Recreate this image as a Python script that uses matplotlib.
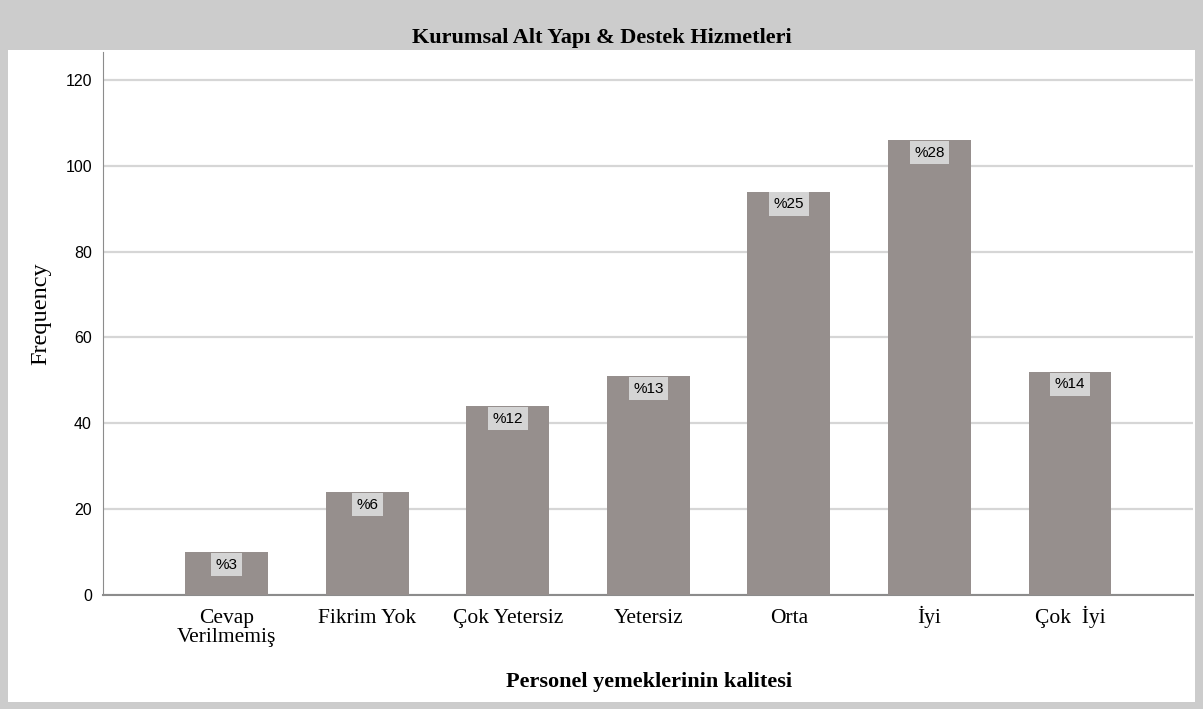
#! /usr/bin/env python
# coding: utf-8
"""Bar chart: Personel yemeklerinin kalitesi (SPSS style)."""

import matplotlib
matplotlib.use('Agg')
import matplotlib.pyplot as plt
from matplotlib.patches import Rectangle

categories = ['Cevap\nVerilmemiş', 'Fikrim Yok', 'Çok Yetersiz', 'Yetersiz',
              'Orta', 'İyi', 'Çok  İyi']
frequencies = [10, 24, 44, 51, 94, 106, 52]
percent_labels = ['%3', '%6', '%12', '%13', '%25', '%28', '%14']
y_ticks = [0, 20, 40, 60, 80, 100, 120]

SERIF = 'Liberation Serif'
SANS = 'Liberation Sans'
W, H = 1203, 709

fig = plt.figure(figsize=(W / 100, H / 100), dpi=100, facecolor='#cccccc')

# white panel below the title band
fig.patches.append(Rectangle((8 / W, 7 / H), (1195 - 8) / W, (702 - 50) / H,
                             transform=fig.transFigure, facecolor='white',
                             edgecolor='none', zorder=-5))

fig.text(0.5, 1 - 38 / H, 'Kurumsal Alt Yapı & Destek Hizmetleri',
         ha='center', va='center', fontsize=16, fontweight='bold',
         family=SERIF)

ax = fig.add_axes([103 / W, 1 - 595 / H, (1193 - 103) / W, (595 - 52) / H])
ax.set_facecolor('white')

x = list(range(len(categories)))
bars = ax.bar(x, frequencies, width=0.59, color='#968f8d', zorder=3)

for rect, lab in zip(bars, percent_labels):
    ax.annotate(lab, (rect.get_x() + rect.get_width() / 2, rect.get_height()),
                xytext=(0, -4), textcoords='offset points', ha='center',
                va='top', fontsize=11, family=SANS, zorder=4,
                bbox=dict(boxstyle='square,pad=0.3', facecolor='#d4d4d4',
                          edgecolor='none'))

ax.set_xlim(-0.88, len(categories) - 1 + 0.875)
ax.set_ylim(0, 126.5)
ax.set_yticks(y_ticks)
ax.set_xticks(x)
ax.set_xticklabels([])
# category labels aligned on the baseline of their first line
for xi, cat in zip(x, categories):
    extra = cat.count('\n')
    ax.annotate(cat, (xi, 0), xycoords=ax.get_xaxis_transform(),
                xytext=(0, -20 - 13.5 * extra), textcoords='offset points',
                ha='center', va='baseline', fontsize=15.5, family=SERIF,
                linespacing=1.0, annotation_clip=False)
for lab in ax.get_yticklabels():
    lab.set_family(SANS)
    lab.set_fontsize(11.5)
ax.tick_params(axis='both', length=0)
ax.tick_params(axis='y', pad=8)

ax.yaxis.grid(True, color='#d6d6d6', linewidth=1.6, zorder=0)
ax.set_axisbelow(True)
for side in ('top', 'right'):
    ax.spines[side].set_visible(False)
ax.spines['left'].set_color('#8c8c8c')
ax.spines['bottom'].set_color('#8c8c8c')
ax.spines['bottom'].set_linewidth(1.5)

fig.text(41 / W, 1 - 314 / H, 'Frequency', rotation=90, ha='center',
         va='center', fontsize=17.5, family=SERIF)
fig.text(649 / W, 1 - 682 / H, 'Personel yemeklerinin kalitesi',
         ha='center', va='center', fontsize=16, fontweight='bold',
         family=SERIF)

fig.savefig('out.png', dpi=100, facecolor=fig.get_facecolor())
